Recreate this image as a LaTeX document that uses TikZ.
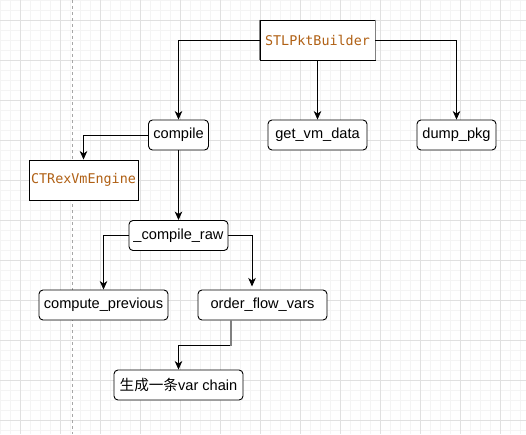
\documentclass[tikz,border=0pt]{standalone}
\usepackage{fontspec}
\setmainfont{Liberation Sans}
\newfontfamily\monof{DejaVu Sans Mono}
\newfontfamily\cjk{Noto Sans CJK SC}
\usetikzlibrary{arrows.meta,calc}
\definecolor{clsbrown}{RGB}{176,96,20}
\definecolor{minorg}{RGB}{244,244,244}
\definecolor{majorg}{RGB}{224,224,224}
\begin{document}
\begin{tikzpicture}[x=1pt,y=-1pt,
  minorgrid/.style={draw=minorg,line width=0.8pt},
  majorgrid/.style={draw=majorg,line width=0.8pt},
  fn/.style={draw=black,fill=white,rounded corners=4pt,line width=0.9pt,inner sep=0pt,
    minimum height=30pt,font=\fontsize{14.6}{16}\selectfont},
  cls/.style={draw=black,fill=white,line width=0.9pt,inner sep=0pt,
    text=clsbrown,font=\monof\fontsize{13.4}{16}\selectfont},
  arr/.style={draw=black,line width=0.9pt,-{Stealth[length=8.5pt,width=7.5pt,inset=2.5pt]}}]
\useasboundingbox (0,0) rectangle (526,434);
\fill[white] (0,0) rectangle (526,434);
\foreach \i in {0,10,...,520} \draw[minorgrid] (\i,0) -- (\i,434);
\foreach \j in {0,10,...,430} \draw[minorgrid] (0,\j) -- (526,\j);
\foreach \i in {20,60,...,500} \draw[majorgrid] (\i,0) -- (\i,434);
\foreach \j in {20,60,...,420} \draw[majorgrid] (0,\j) -- (526,\j);
\draw[gray!70,dashed,line width=0.8pt] (72,0) -- (72,434);

\node[cls,minimum width=115pt,minimum height=40pt] (stl) at (317.5,40) {STLPktBuilder};
\draw[gray,line width=1.6pt] (stl.north west) -- (stl.south west);
\draw[gray,line width=1.6pt] (stl.north east) -- (stl.south east);
\node[fn,minimum width=60pt] (compile) at (178.5,135) {compile};
\node[fn,minimum width=99pt] (getvm) at (317.5,135) {get\_vm\_data};
\node[fn,minimum width=79pt] (dump) at (456.5,135) {dump\_pkg};
\node[cls,minimum width=109pt,minimum height=40pt] (ctrex) at (83.5,180) {CTRexVmEngine};
\node[fn,minimum width=99pt] (raw) at (178.5,235.5) {\_compile\_raw};
\node[fn,minimum width=129pt] (cprev) at (103.5,305) {compute\_previous};
\node[fn,minimum width=129pt] (ofv) at (262.5,305) {order\_flow\_vars};
\node[fn,minimum width=129pt] (chain) at (178.5,385) {{\cjk 生成一条}var chain};

\draw[arr] (stl.west) -| (compile.north);
\draw[arr] (stl.south) -- (getvm.north);
\draw[arr] (stl.east) -| (dump.north);
\draw[arr] (compile.west) -| (ctrex.north);
\draw[arr] (compile.south) -- (raw.north);
\draw[arr] (raw.west) -| (cprev.north);
\coordinate (ofvin) at (252,286.5);
\draw[arr] (raw.east) -| (ofvin);
\coordinate (ofvout) at ([xshift=-31.5pt]ofv.south);
\draw[arr] (ofvout) -- ++(0,25.3) -| (chain.north);
\draw[gray,line width=1.3pt] (ofvout) -- ++(0,25.3);
\end{tikzpicture}
\end{document}
